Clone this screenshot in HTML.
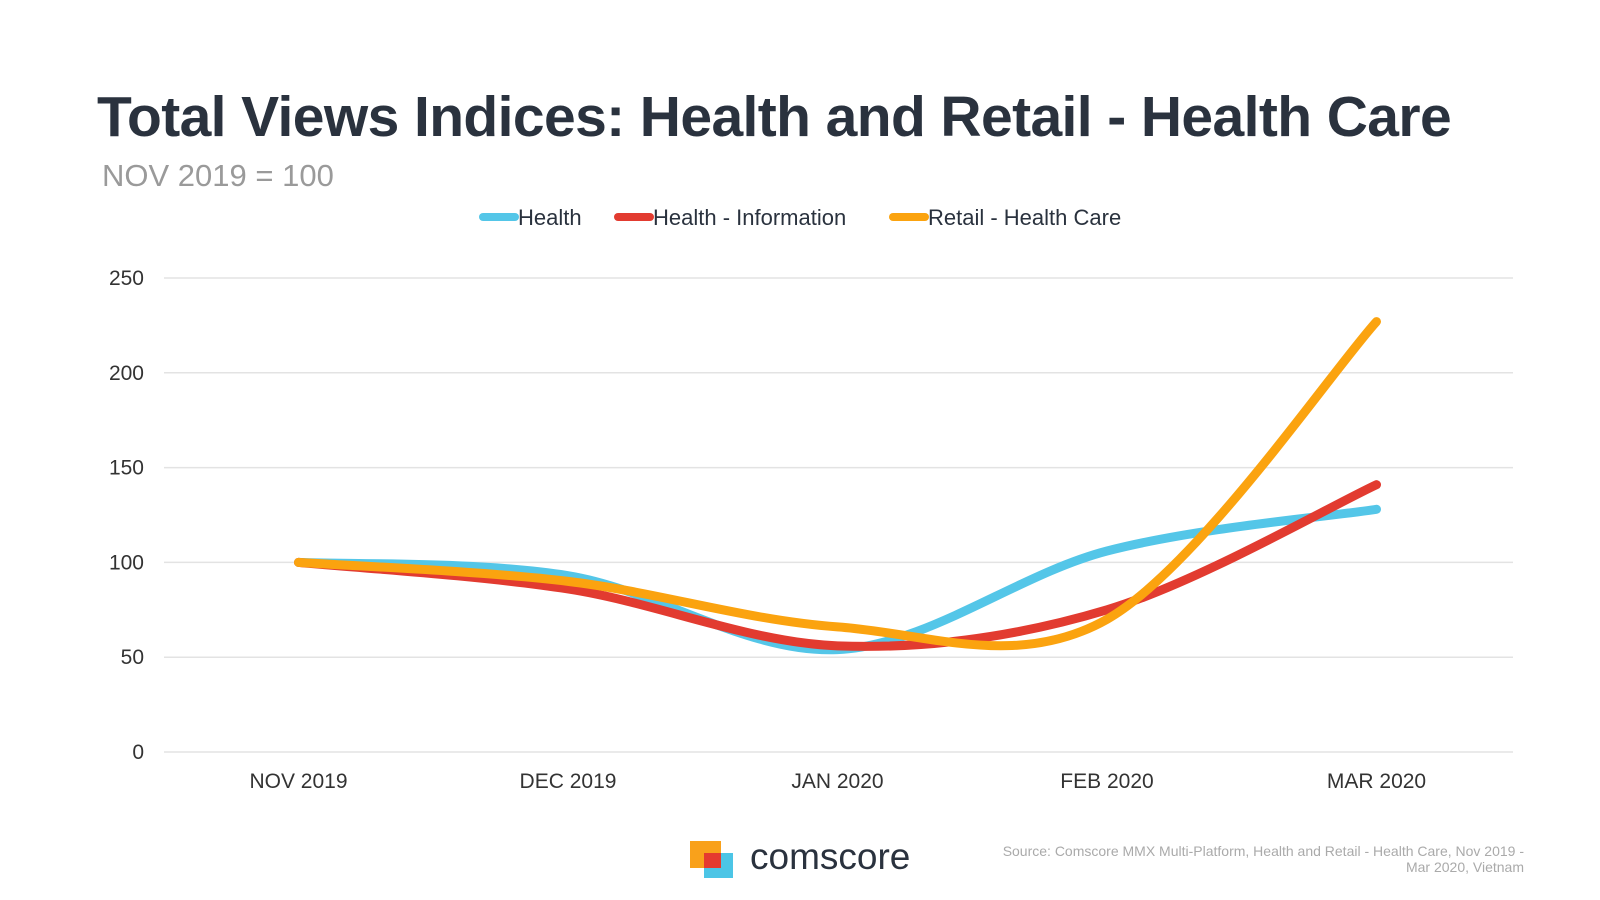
<!DOCTYPE html>
<html><head><meta charset="utf-8"><style>
body{margin:0;width:1600px;height:900px;background:#fff;font-family:"Liberation Sans",sans-serif;overflow:hidden;position:relative}
.t{position:absolute}
</style></head><body>
<div class="t" style="left:97px;top:84px;font-size:57px;font-weight:bold;color:#2a323e;letter-spacing:-0.6px">Total Views Indices: Health and Retail - Health Care</div>
<div class="t" style="left:102px;top:158px;font-size:31px;color:#9a9a9a">NOV 2019 = 100</div>
<svg id="c" class="t" style="left:0;top:0" width="1600" height="900"></svg>
<div class="t" style="left:690px;top:841px;width:45px;height:37px">
<div style="position:absolute;left:0;top:0;width:31px;height:27px;background:#f9a11b"></div>
<div style="position:absolute;left:14px;top:12px;width:29px;height:25px;background:#4cc5e6"></div>
<div style="position:absolute;left:14px;top:12px;width:17px;height:15px;background:#e53a2f"></div>
</div>
<div class="t" style="left:750px;top:836px;font-size:37px;color:#2a323e">comscore</div>
<div class="t" style="left:800px;top:843px;width:724px;text-align:right;font-size:14px;color:#aaa;line-height:16px">Source: Comscore MMX Multi-Platform, Health and Retail - Health Care, Nov 2019 -<br>Mar 2020, Vietnam</div>
<script>
const categories=["NOV 2019","DEC 2019","JAN 2020","FEB 2020","MAR 2020"];
const yTicks=[0,50,100,150,200,250];
const seriesNames=["Health","Health - Information","Retail - Health Care"];
const healthValues=[100,93,54,106,128];
const healthInfoValues=[100,86,56,75,141];
const retailValues=[100,90,66,70,227];
const colors=["#54c6e8","#e23b30","#fba30f"];
const svg=document.getElementById('c');const NS="http://www.w3.org/2000/svg";
const x=i=>298.5+i*269.5;const y=v=>752-v*1.896;
function mk(t,a){const e=document.createElementNS(NS,t);for(const k in a)e.setAttribute(k,a[k]);svg.appendChild(e);return e;}
yTicks.forEach(v=>{const l=mk('line',{x1:164,x2:1513,y1:y(v),y2:y(v),stroke:'#e3e3e3','stroke-width':1.5});


const t=mk('text',{x:144,y:y(v)+7,'text-anchor':'end','font-size':21,fill:'#333'});t.textContent=v;

});
categories.forEach((c,i)=>{const t=mk('text',{x:x(i),y:788,'text-anchor':'middle','font-size':21,fill:'#333'});t.textContent=c;

});
function path(vals){const p=vals.map((v,i)=>[x(i),y(v)]);let d='M'+p[0];for(let i=0;i<p.length-1;i++){const p0=p[i-1]||p[i],p1=p[i],p2=p[i+1],p3=p[i+2]||p[i+1];
d+=' C'+(p1[0]+(p2[0]-p0[0])/6)+','+(p1[1]+(p2[1]-p0[1])/6)+' '+(p2[0]-(p3[0]-p1[0])/6)+','+(p2[1]-(p3[1]-p1[1])/6)+' '+p2;}return d;}
[healthValues,healthInfoValues,retailValues].forEach((vals,k)=>{const e=mk('path',{d:path(vals),fill:'none',stroke:colors[k],'stroke-width':9,'stroke-linecap':'round'});

});
const lx=[479,614,889];
seriesNames.forEach((n,k)=>{const l=mk('line',{x1:lx[k]+4,x2:lx[k]+36,y1:217,y2:217,stroke:colors[k],'stroke-width':8,'stroke-linecap':'round'});


const t=mk('text',{x:lx[k]+39,y:225,'font-size':22,fill:'#2a323e'});t.textContent=n;

});
</script>
</body></html>
